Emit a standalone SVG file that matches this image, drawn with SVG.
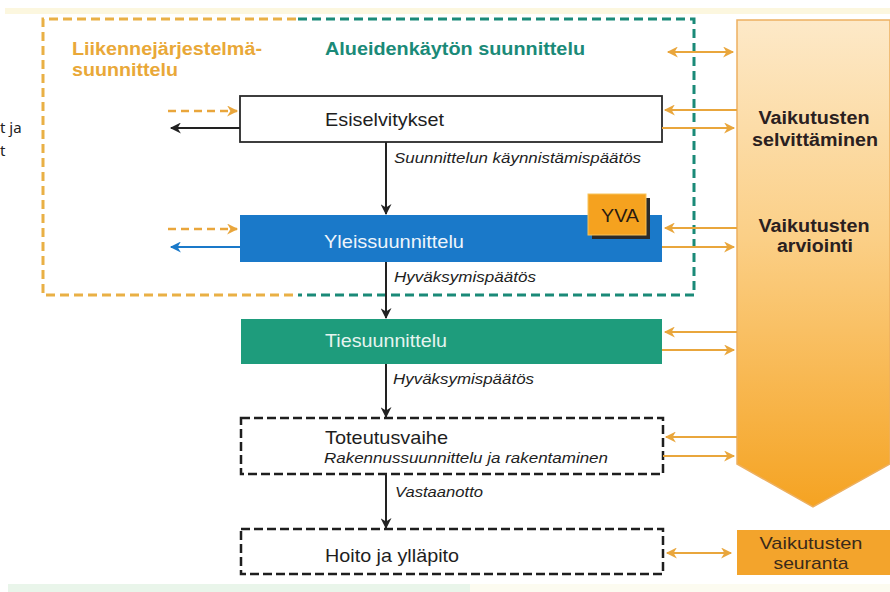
<svg xmlns="http://www.w3.org/2000/svg" width="890" height="592" viewBox="0 0 890 592">
<style>
  .sans { font-family: "Liberation Sans", Arial, sans-serif; }
  .lbl { font-family: "Liberation Sans", Arial, sans-serif; font-size: 19px; fill: #1e1e1e; }
  .it { font-family: "Liberation Sans", Arial, sans-serif; font-size: 14.5px; font-style: italic; fill: #1e1e1e; }
  .rt { font-family: "Liberation Sans", Arial, sans-serif; font-size: 18px; font-weight: bold; fill: #2a2020; text-anchor: middle; }
  .flow { stroke: #222; stroke-width: 2; fill: none; marker-end: url(#ah-black); }
  .oar { stroke: #e9a63c; stroke-width: 2; fill: none; marker-end: url(#ah-orange); }
  .odbl { stroke: #e9a63c; stroke-width: 2; fill: none; marker-end: url(#ah-orange); marker-start: url(#ah-orange); }
  .odash { stroke: #e9a63c; stroke-width: 2.5; stroke-dasharray: 8 5; fill: none; marker-end: url(#ah-orange); }
  .dbox { fill: #fff; stroke: #1e1e1e; stroke-width: 2.5; stroke-dasharray: 9 4; }
</style>
<defs>
  <marker id="ah-black" viewBox="0 0 10 10" refX="9" refY="5" markerWidth="13" markerHeight="11" markerUnits="userSpaceOnUse" orient="auto-start-reverse">
    <path d="M0,0 L10,5 L0,10 L3,5 z" fill="#222"/>
  </marker>
  <marker id="ah-orange" viewBox="0 0 10 10" refX="9" refY="5" markerWidth="13" markerHeight="11" markerUnits="userSpaceOnUse" orient="auto-start-reverse">
    <path d="M0,0 L10,5 L0,10 L3,5 z" fill="#e9a63c"/>
  </marker>
  <marker id="ah-blue" viewBox="0 0 10 10" refX="9" refY="5" markerWidth="13" markerHeight="11" markerUnits="userSpaceOnUse" orient="auto-start-reverse">
    <path d="M0,0 L10,5 L0,10 L3,5 z" fill="#1a79c9"/>
  </marker>
  <linearGradient id="bigGrad" x1="0" y1="0" x2="0" y2="1">
    <stop offset="0" stop-color="#fde9c8"/>
    <stop offset="0.45" stop-color="#fbcf86"/>
    <stop offset="1" stop-color="#f5a322"/>
  </linearGradient>
</defs>

<!-- background -->
<rect x="0" y="0" width="890" height="592" fill="#ffffff"/>
<rect x="5" y="8" width="885" height="6" fill="#fcf7df"/>
<rect x="8" y="584" width="462" height="8" fill="#e9f5ea"/>
<rect x="470" y="584" width="420" height="8" fill="#fcfbf0"/>

<!-- left cut-off text -->
<text x="0" y="133" font-family="'Noto Sans', 'DejaVu Sans', sans-serif" font-size="15" fill="#222">t ja</text>
<text x="0" y="156" font-family="'Noto Sans', 'DejaVu Sans', sans-serif" font-size="15" fill="#222">t</text>

<!-- planning frames -->
<g id="frame-liikenne">
  <path d="M296,19 H43 V295 H296" fill="none" stroke="#e9b045" stroke-width="3" stroke-dasharray="9 5"/>
  <text class="sans" x="72" y="55" font-size="18" font-weight="bold" fill="#e9a838" textLength="190" lengthAdjust="spacingAndGlyphs">Liikennejärjestelmä-</text>
  <text class="sans" x="72" y="76" font-size="18" font-weight="bold" fill="#e9a838" textLength="106" lengthAdjust="spacingAndGlyphs">suunnittelu</text>
</g>
<g id="frame-alueiden">
  <path d="M298,19 H694 V295 H298" fill="none" stroke="#1a8a78" stroke-width="3" stroke-dasharray="9 5"/>
  <text class="sans" x="325" y="55" font-size="18" font-weight="bold" fill="#1a8a78" textLength="260" lengthAdjust="spacingAndGlyphs">Alueidenkäytön suunnittelu</text>
</g>

<!-- big impact arrow -->
<g id="vaikutukset">
  <path d="M737,20 H890 V464 L813,507 L737,464 Z" fill="url(#bigGrad)" stroke="#edb060" stroke-width="1.5"/>
  <text class="rt" x="814" y="124" textLength="111" lengthAdjust="spacingAndGlyphs">Vaikutusten</text>
  <text class="rt" x="815" y="146" textLength="126" lengthAdjust="spacingAndGlyphs">selvittäminen</text>
  <text class="rt" x="814" y="232" textLength="111" lengthAdjust="spacingAndGlyphs">Vaikutusten</text>
  <text class="rt" x="815" y="252" textLength="76" lengthAdjust="spacingAndGlyphs">arviointi</text>
</g>

<g id="seuranta">
  <rect x="737" y="530" width="153" height="45" fill="#f3a42c"/>
  <text class="sans" x="811" y="549" font-size="17" fill="#3a2a1a" text-anchor="middle" textLength="103" lengthAdjust="spacingAndGlyphs">Vaikutusten</text>
  <text class="sans" x="811" y="569" font-size="17" fill="#3a2a1a" text-anchor="middle" textLength="75" lengthAdjust="spacingAndGlyphs">seuranta</text>
</g>

<!-- process nodes -->
<g id="esiselvitykset">
  <rect x="240" y="96" width="422" height="46" fill="#fff" stroke="#2a2a2a" stroke-width="1.8"/>
  <text class="lbl" x="325" y="126" textLength="119" lengthAdjust="spacingAndGlyphs">Esiselvitykset</text>
</g>

<g id="yleissuunnittelu">
  <rect x="240" y="215" width="422" height="47" fill="#1a79c9"/>
  <text class="lbl" x="324" y="248" style="fill:#eef5fb" textLength="140" lengthAdjust="spacingAndGlyphs">Yleissuunnittelu</text>
</g>

<g id="yva">
  <rect x="592" y="198" width="58" height="41" fill="#2b2b2b"/>
  <rect x="588" y="194" width="58" height="41" fill="#f5a21f" stroke="#f8c35a" stroke-width="1"/>
  <text class="sans" x="620" y="222" font-size="19" fill="#2a1a10" text-anchor="middle" textLength="38" lengthAdjust="spacingAndGlyphs">YVA</text>
</g>

<g id="tiesuunnittelu">
  <rect x="241" y="319" width="421" height="45" fill="#1e9c7c"/>
  <text class="lbl" x="325" y="347" style="fill:#e6f4ef" textLength="122" lengthAdjust="spacingAndGlyphs">Tiesuunnittelu</text>
</g>

<g id="toteutusvaihe">
  <rect class="dbox" x="241" y="418" width="422" height="56"/>
  <text class="lbl" x="325" y="444" textLength="123" lengthAdjust="spacingAndGlyphs">Toteutusvaihe</text>
  <text class="it" x="324" y="463" textLength="284" lengthAdjust="spacingAndGlyphs">Rakennussuunnittelu ja rakentaminen</text>
</g>

<g id="hoito">
  <rect class="dbox" x="241" y="529" width="422" height="45"/>
  <text class="lbl" x="325" y="562" textLength="134" lengthAdjust="spacingAndGlyphs">Hoito ja ylläpito</text>
</g>

<!-- connectors -->
<g id="connectors">
  <!-- main flow -->
  <line class="flow" x1="386" y1="142" x2="386" y2="214"/>
  <line class="flow" x1="386" y1="262" x2="386" y2="318"/>
  <line class="flow" x1="386" y1="364" x2="386" y2="417"/>
  <line class="flow" x1="386" y1="474" x2="386" y2="528"/>
  <text class="it" x="394" y="163" textLength="247" lengthAdjust="spacingAndGlyphs">Suunnittelun käynnistämispäätös</text>
  <text class="it" x="394" y="282" textLength="142" lengthAdjust="spacingAndGlyphs">Hyväksymispäätös</text>
  <text class="it" x="393" y="384" textLength="141" lengthAdjust="spacingAndGlyphs">Hyväksymispäätös</text>
  <text class="it" x="395" y="497" textLength="88" lengthAdjust="spacingAndGlyphs">Vastaanotto</text>

  <!-- left side -->
  <line class="odash" x1="168" y1="111" x2="237" y2="111"/>
  <line class="flow" x1="240" y1="128" x2="171" y2="128"/>
  <line class="odash" x1="168" y1="229" x2="237" y2="229"/>
  <line x1="240" y1="247" x2="171" y2="247" stroke="#1a79c9" stroke-width="2.2" marker-end="url(#ah-blue)"/>

  <!-- right side -->
  <line class="odbl" x1="668" y1="52" x2="733" y2="52"/>
  <line class="oar" x1="737" y1="110" x2="665" y2="110"/>
  <line class="oar" x1="662" y1="128" x2="734" y2="128"/>
  <line class="oar" x1="737" y1="228" x2="665" y2="228"/>
  <line class="oar" x1="662" y1="247" x2="734" y2="247"/>
  <line class="oar" x1="737" y1="332" x2="665" y2="332"/>
  <line class="oar" x1="662" y1="350" x2="734" y2="350"/>
  <line class="oar" x1="737" y1="437" x2="666" y2="437"/>
  <line class="oar" x1="663" y1="456" x2="734" y2="456"/>
  <line class="odbl" x1="667" y1="553" x2="731" y2="553"/>
</g>
</svg>
